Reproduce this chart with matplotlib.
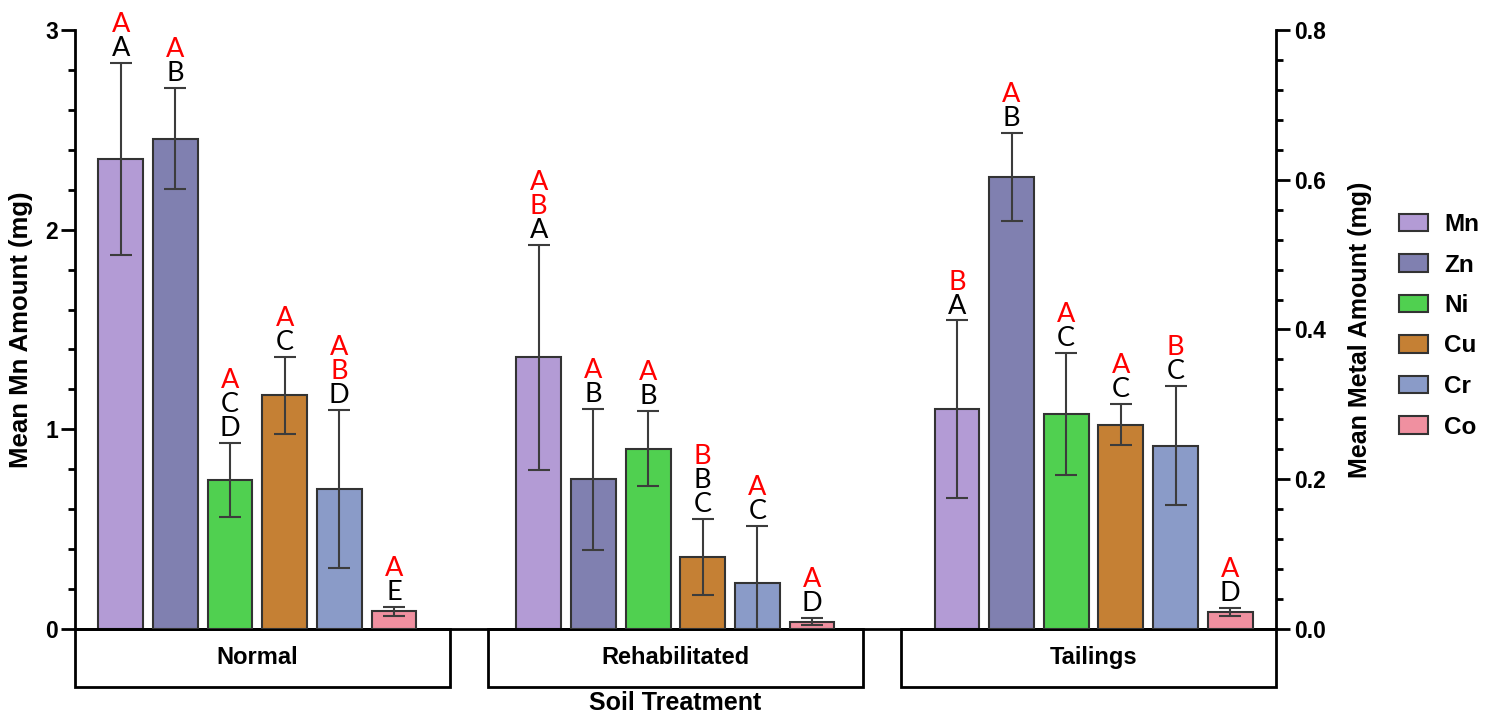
import matplotlib
matplotlib.use('Agg')
import matplotlib.pyplot as plt
from matplotlib.patches import Patch, Rectangle
from matplotlib.ticker import MultipleLocator
import matplotlib.transforms as mtransforms
import numpy as np

treatments = ['Normal', 'Rehabilitated', 'Tailings']
metals = ['Mn', 'Zn', 'Ni', 'Cu', 'Cr', 'Co']
colors = ['#B39BD5', '#8080B0', '#50D050', '#C58034', '#8A9BC8', '#F090A0']

# Mn is read on the left axis (mg)
mn_mean = [2.355, 1.36, 1.10]
mn_err = [0.48, 0.565, 0.445]

# the other metals are read on the right axis (mg)
zn_mean = [0.655, 0.200, 0.604]
zn_err = [0.068, 0.094, 0.059]
ni_mean = [0.199, 0.241, 0.287]
ni_err = [0.049, 0.050, 0.082]
cu_mean = [0.312, 0.096, 0.273]
cu_err = [0.051, 0.051, 0.027]
cr_mean = [0.187, 0.062, 0.245]
cr_err = [0.106, 0.076, 0.080]
co_mean = [0.024, 0.0098, 0.0225]
co_err = [0.006, 0.0045, 0.005]

# significance letters, black = between metals, red = between treatments
black_letters = [['A', 'B', 'CD', 'C', 'D', 'E'],
                 ['A', 'B', 'B', 'BC', 'C', 'D'],
                 ['A', 'B', 'C', 'C', 'C', 'D']]
red_letters = [['A', 'A', 'A', 'A', 'AB', 'A'],
               ['AB', 'A', 'A', 'B', 'A', 'A'],
               ['B', 'A', 'A', 'A', 'B', 'A']]

means = [mn_mean, zn_mean, ni_mean, cu_mean, cr_mean, co_mean]
errs = [mn_err, zn_err, ni_err, cu_err, cr_err, co_err]

plt.rcParams['font.family'] = 'Liberation Sans'
plt.rcParams['font.weight'] = 'bold'
plt.rcParams['axes.labelweight'] = 'bold'

fig = plt.figure(figsize=(14.93, 7.15), dpi=100)
ax = fig.add_axes([0.0502, 0.1203, 0.8044, 0.8378])
ax2 = ax.twinx()

group_step = 7.65
width = 0.82
edge = '#333333'
for j, metal in enumerate(metals):
    target = ax if j == 0 else ax2
    xs = np.arange(len(treatments)) * group_step + j
    target.bar(xs, means[j], width, color=colors[j], edgecolor=edge, linewidth=1.5, zorder=2)
    target.errorbar(xs, means[j], yerr=errs[j], fmt='none', ecolor='#3c3c3c',
                    elinewidth=1.5, capsize=8, capthick=1.5, zorder=3)
    for g in range(len(treatments)):
        red = list(red_letters[g][j])
        stack = red + list(black_letters[g][j])
        top = means[j][g] + errs[j][g]
        n = len(stack)
        for k, ch in enumerate(stack):
            level = n - 1 - k
            target.annotate(ch, (xs[g], top), xytext=(0, 5 + 17.3 * level),
                            textcoords='offset points', ha='center', va='baseline',
                            color='red' if k < len(red) else 'black',
                            family='Lato', fontweight='normal', fontsize=19.5,
                            annotation_clip=False)

ax.set_xlim(-0.836, 2 * group_step + 5 + 0.836)
ax.set_ylim(0, 3)
ax2.set_ylim(0, 0.8)
ax.set_xticks([])

ax.set_yticks([0, 1, 2, 3])
ax.yaxis.set_minor_locator(MultipleLocator(0.2))
ax2.set_yticks([0, 0.2, 0.4, 0.6, 0.8])
ax2.set_yticklabels(['0.0', '0.2', '0.4', '0.6', '0.8'])
ax2.yaxis.set_minor_locator(MultipleLocator(0.04))

for a in (ax, ax2):
    a.spines['top'].set_visible(False)
    for s in a.spines.values():
        s.set_linewidth(2)
    a.tick_params(axis='y', which='major', length=10, width=2, labelsize=16.5)
    a.tick_params(axis='y', which='minor', length=5, width=2)
ax.spines['right'].set_visible(False)
ax2.spines['left'].set_visible(False)
ax2.spines['bottom'].set_visible(False)
ax.tick_params(axis='y', pad=2)
ax2.tick_params(axis='y', pad=3)

ax.set_ylabel('Mean Mn Amount (mg)', fontsize=18.5, va='center')
ax.yaxis.set_label_coords(-0.045, 0.5)
ax2.set_ylabel('Mean Metal Amount (mg)', fontsize=18, va='center')
ax2.yaxis.set_label_coords(1.070, 0.5)

# treatment boxes under the axis
gap = 0.032
box_w = (1 - 2 * gap) / 3
box_h = 0.0963
trans = mtransforms.blended_transform_factory(ax.transData, ax.transAxes)
for i, name in enumerate(treatments):
    ax.add_patch(Rectangle((i * (box_w + gap), -box_h), box_w, box_h, transform=ax.transAxes,
                           fill=False, edgecolor='black', linewidth=2, clip_on=False))
    ax.text(i * group_step + 2.5, -0.047, name, transform=trans, ha='center', va='center',
            fontsize=17)
ax.text(0.5, -0.1235, 'Soil Treatment', transform=ax.transAxes, ha='center', va='center',
        fontsize=18)

handles = [Patch(facecolor=c, edgecolor=edge, linewidth=1.5) for c in colors]
fig.legend(handles, metals, loc='upper left', bbox_to_anchor=(1399 / 1493, 1 - 213 / 715),
           frameon=False, fontsize=17.5, handlelength=1.2, handleheight=0.7,
           handletextpad=0.66, labelspacing=0.72, borderpad=0, borderaxespad=0)

fig.savefig('out.png', dpi=100)
